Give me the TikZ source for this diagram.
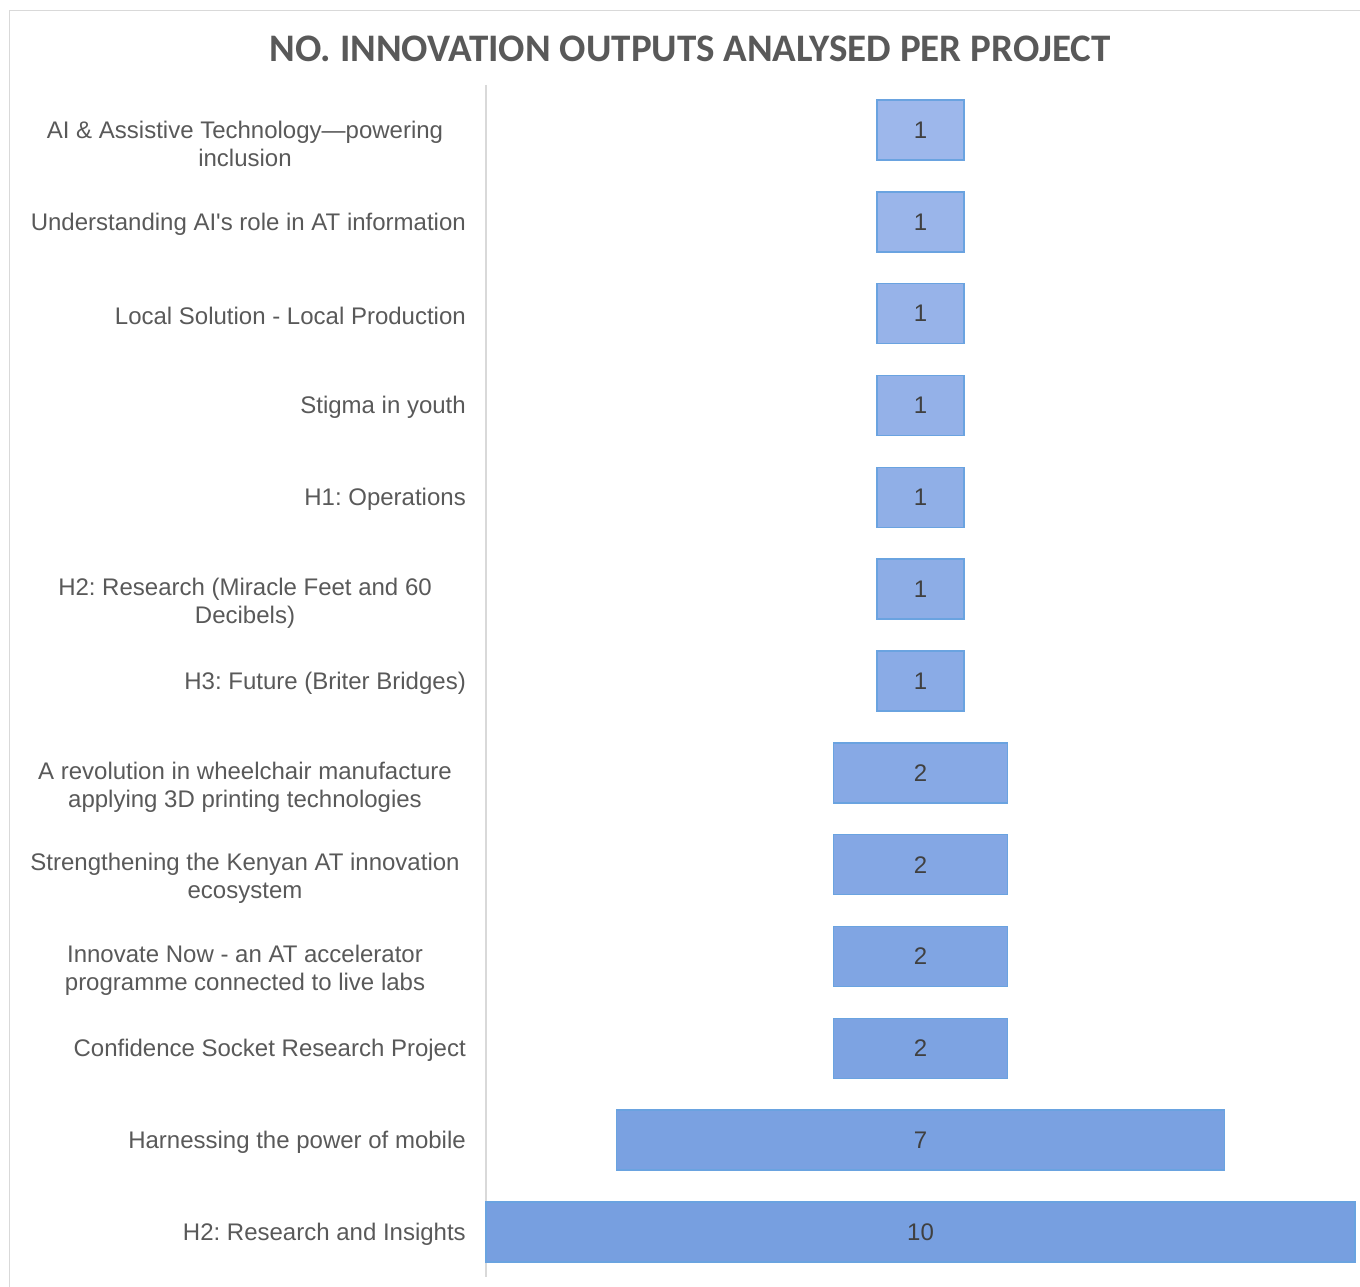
\documentclass[tikz,border=0pt]{standalone}
\usepackage{fontspec}
\setmainfont{Liberation Sans}
\newfontfamily\titlefont{Carlito}
\frenchspacing
\definecolor{txtgray}{HTML}{595959}
\definecolor{numgray}{HTML}{404040}
\definecolor{barlight}{HTML}{9DB7EB}
\definecolor{bardark}{HTML}{779FE0}
\definecolor{barline}{HTML}{6AA3E0}
\definecolor{framegray}{HTML}{D9D9D9}
\tikzset{
	barbox/.style={draw=barline, line width=1.5pt, minimum height=60pt, inner sep=0pt, text=numgray, font=\fontsize{24}{28}\selectfont},
	lab/.style={text=txtgray, font=\fontsize{24}{28}\selectfont, inner sep=0pt},
	onelab/.style={lab, anchor=east},
	twolab/.style={lab, align=center},
}
\begin{document}
\begin{tikzpicture}[x=1pt,y=-1pt]
		\useasboundingbox (0,0) rectangle (1360,1287);
		\draw[framegray, line width=1pt] (9,1287) -- (9,11) -- (1360,11);
		\node[text=txtgray, font=\titlefont\bfseries\fontsize{39}{44}\selectfont] (title) at (690,49) {NO. INNOVATION OUTPUTS ANALYSED PER PROJECT};
		\coordinate (axtop) at (486,85);
		\coordinate (axbot) at (486,1277);
		\draw[framegray, line width=2pt] (axtop) -- (axbot);
		% bars, one per project
		\foreach \val [count=\i] in {1,1,1,1,1,1,1,2,2,2,2,7,10} {
			\pgfmathsetmacro{\yy}{130+(\i-1)*91.83}
			\pgfmathsetmacro{\mix}{100-(\i-1)*100/12}
			\node[barbox, fill=barlight!\mix!bardark, minimum width={\val*86.9pt}] (bar\i) at (920.5,\yy) {\val};
		}
		% project names
		\node[twolab] (lab1) at ([shift={(-241pt,-14pt)}]bar1 -| axtop) {AI \& Assistive Technology---powering\\inclusion};
		\node[onelab] (lab2) at ([shift={(-20pt,-2pt)}]bar2 -| axtop) {Understanding AI\textquotesingle s role in AT information};
		\node[onelab] (lab3) at ([shift={(-20pt,-2pt)}]bar3 -| axtop) {Local Solution - Local Production};
		\node[onelab] (lab4) at ([shift={(-20pt,-2pt)}]bar4 -| axtop) {Stigma in youth};
		\node[onelab] (lab5) at ([shift={(-20pt,-2pt)}]bar5 -| axtop) {H1: Operations};
		\node[twolab] (lab6) at ([shift={(-241pt,-14pt)}]bar6 -| axtop) {H2: Research (Miracle Feet and 60\\Decibels)};
		\node[onelab] (lab7) at ([shift={(-20pt,-2pt)}]bar7 -| axtop) {H3: Future (Briter Bridges)};
		\node[twolab] (lab8) at ([shift={(-241pt,-14pt)}]bar8 -| axtop) {A revolution in wheelchair manufacture\\applying 3D printing technologies};
		\node[twolab] (lab9) at ([shift={(-241pt,-14pt)}]bar9 -| axtop) {Strengthening the Kenyan AT innovation\\ecosystem};
		\node[twolab] (lab10) at ([shift={(-241pt,-14pt)}]bar10 -| axtop) {Innovate Now - an AT accelerator\\programme connected to live labs};
		\node[onelab] (lab11) at ([shift={(-20pt,-2pt)}]bar11 -| axtop) {Confidence Socket Research Project};
		\node[onelab] (lab12) at ([shift={(-20pt,-2pt)}]bar12 -| axtop) {Harnessing the power of mobile};
		\node[onelab] (lab13) at ([shift={(-20pt,-2pt)}]bar13 -| axtop) {H2: Research and Insights};
\end{tikzpicture}
\end{document}
